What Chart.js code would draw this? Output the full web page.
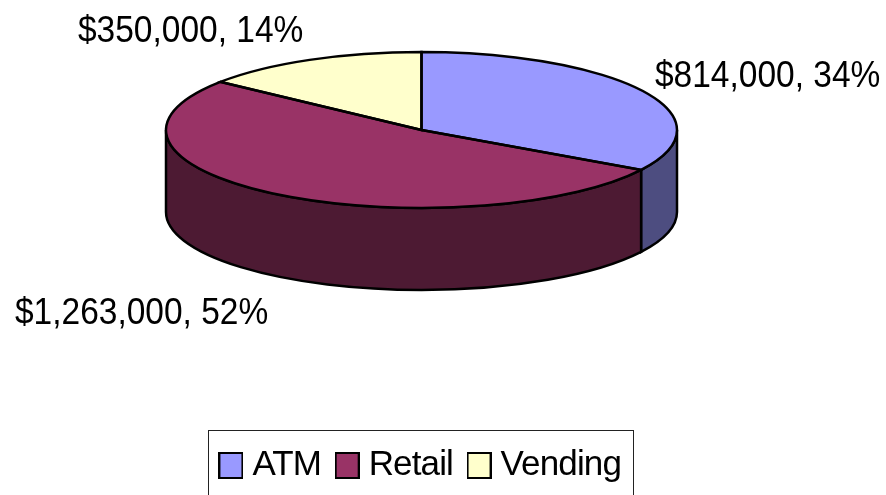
<!DOCTYPE html>
<html>
<head>
<meta charset="utf-8">
<script src="https://cdn.jsdelivr.net/npm/chart.js"></script>
<style>
  html, body { margin: 0; padding: 0; background: #fff; overflow: hidden; }
  canvas { display: block; }
</style>
</head>
<body>
<canvas id="myChart" width="886" height="495"></canvas>
<script>
const categories = ["ATM", "Retail", "Vending"];
const amounts = [814000, 1263000, 350000];
const percents = [34, 52, 14];
const topColors = ["#9999ff", "#993366", "#ffffcc"];
const sideColors = ["#4d4d80", "#4d1a33", "#808066"];
// label text anchors (x = left edge, y = baseline)
const labelPos = [[655, 87], [15, 324], [78, 42]];

const FONT = '"Liberation Sans", Arial, sans-serif';
const CX = 421.5, CY = 130, RX = 255.5, RY = 78, DEPTH = 82;
const K = RY / RX;
const LINE = 2.5;
const LEGEND_SPACING = "-0.85px";

function money(v) {
  return "$" + v.toLocaleString("en-US");
}

function norm(a) {
  // chart.js start angle is -PI/2, bring it into -PI..PI
  while (a > Math.PI) a -= 2 * Math.PI;
  return a;
}

// small square with black edge, used as legend marker
function legendSwatch(color) {
  const c = document.createElement("canvas");
  c.width = 25;
  c.height = 27;
  const x = c.getContext("2d");
  x.fillStyle = color;
  x.fillRect(1, 1, 23, 25);
  x.lineWidth = 2;
  x.strokeStyle = "#000";
  x.strokeRect(1, 1, 23, 25);
  return c;
}

const pie3d = {
  id: "pie3d",
  // legend measures and draws with this spacing
  beforeUpdate(chart) {
    chart.ctx.letterSpacing = LEGEND_SPACING;
  },
  beforeDraw(chart) {
    chart.ctx.letterSpacing = LEGEND_SPACING;
  },
  beforeDatasetsDraw(chart) {
    const ctx = chart.ctx;
    const arcs = chart.getDatasetMeta(0).data;
    // side wall: only the front half of each slice shows
    arcs.forEach((arc, i) => {
      const start = norm(arc.startAngle);
      const a = Math.max(start, 0);
      const b = Math.min(start + (arc.endAngle - arc.startAngle), Math.PI);
      if (b <= a) return;
      ctx.beginPath();
      ctx.ellipse(CX, CY, RX, RY, 0, a, b);
      ctx.ellipse(CX, CY + DEPTH, RX, RY, 0, b, a, true);
      ctx.closePath();
      ctx.fillStyle = sideColors[i];
      ctx.fill();
      ctx.lineWidth = LINE;
      ctx.strokeStyle = "#000";
      ctx.stroke();
    });
    // the library's arcs get squashed onto the top face
    const first = arcs[0];
    ctx.save();
    ctx.translate(CX, CY);
    ctx.scale(1, K);
    ctx.translate(-first.x, -first.y);
  },
  afterDatasetsDraw(chart) {
    const ctx = chart.ctx;
    ctx.restore();
    const arcs = chart.getDatasetMeta(0).data;
    arcs.forEach((arc) => {
      ctx.beginPath();
      ctx.moveTo(CX, CY);
      ctx.ellipse(CX, CY, RX, RY, 0, arc.startAngle, arc.endAngle);
      ctx.closePath();
      ctx.lineWidth = LINE;
      ctx.strokeStyle = "#000";
      ctx.stroke();
    });
    // data labels, condensed like the original
    ctx.save();
    ctx.letterSpacing = "0px";
    ctx.fillStyle = "#000";
    ctx.font = "37px " + FONT;
    ctx.textAlign = "left";
    ctx.textBaseline = "alphabetic";
    categories.forEach((c, i) => {
      ctx.save();
      ctx.translate(labelPos[i][0], labelPos[i][1]);
      ctx.scale(0.905, 1);
      ctx.fillText(money(amounts[i]) + ", " + percents[i] + "%", 0, 0);
      ctx.restore();
    });
    ctx.restore();
    // legend frame, runs off the bottom edge
    ctx.lineWidth = 1;
    ctx.strokeStyle = "#222";
    ctx.strokeRect(208.5, 430.5, 425, 70);
  }
};

new Chart(document.getElementById("myChart"), {
  type: "pie",
  data: {
    labels: categories,
    datasets: [{
      data: amounts,
      backgroundColor: topColors,
      borderWidth: 0,
      radius: RX
    }]
  },
  options: {
    responsive: false,
    animation: false,
    layout: { padding: { right: 38, bottom: 2 } },
    plugins: {
      tooltip: { enabled: false },
      legend: {
        position: "bottom",
        labels: {
          color: "#000",
          font: { family: FONT, size: 35 },
          usePointStyle: true,
          pointStyleWidth: 8,
          padding: 22,
          generateLabels() {
            return categories.map((c, i) => ({
              text: c,
              fontColor: "#000",
              pointStyle: legendSwatch(topColors[i]),
              index: i
            }));
          }
        }
      }
    }
  },
  plugins: [pie3d]
});
</script>
</body>
</html>
